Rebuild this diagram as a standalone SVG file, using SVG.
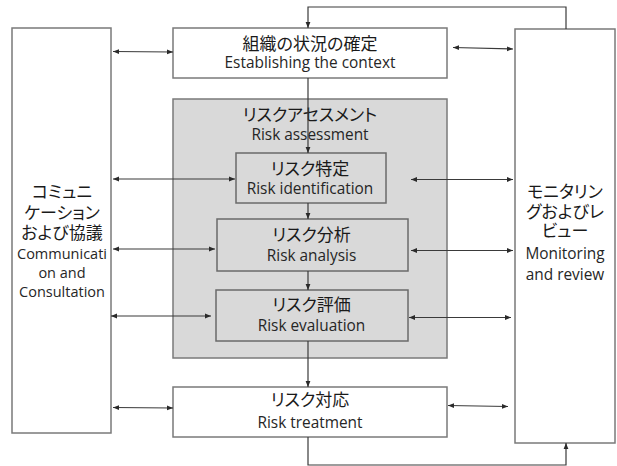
<svg xmlns="http://www.w3.org/2000/svg" width="617" height="466" viewBox="0 0 617 466">
<defs>
<style>
.box{fill:#ffffff;stroke:#7a7a7a;stroke-width:1.5}
.gbox{fill:#d9d9d9;stroke:#7a7a7a;stroke-width:1.5}
.ibox{fill:#d9d9d9;stroke:#6a6a6a;stroke-width:1.5}
.jp{font-family:"Noto Sans CJK JP","Noto Sans",sans-serif;font-size:17px;fill:#1a1a1a;text-anchor:middle;font-feature-settings:"palt"}
.en{font-family:"Open Sans","Liberation Sans",Arial,sans-serif;font-size:15.4px;fill:#262626;text-anchor:middle}
.sm{font-size:14.5px}
.c{fill:none;stroke:#3a3a3a;stroke-width:1.2}
.a2{marker-start:url(#ah);marker-end:url(#ah)}
.a1{marker-end:url(#ah)}
</style>
<marker id="ah" viewBox="0 0 10 10" refX="10" refY="5" markerWidth="6" markerHeight="6" orient="auto-start-reverse" markerUnits="userSpaceOnUse">
<path d="M0,1 L10,5 L0,9 z" fill="#2a2a2a"/>
</marker>
</defs>

<g id="communication">
<rect class="box" x="12" y="28" width="99" height="405"/>
<text class="jp" x="62" y="198">コミュニ</text>
<text class="jp" x="62" y="219">ケーション</text>
<text class="jp" x="62" y="239">および協議</text>
<text class="en sm" x="62" y="259">Communicati</text>
<text class="en sm" x="62" y="278">on and</text>
<text class="en sm" x="62" y="297">Consultation</text>
</g>

<g id="monitoring">
<rect class="box" x="515" y="29" width="100" height="414"/>
<text class="jp" x="565" y="198">モニタリン</text>
<text class="jp" x="565" y="218">グおよびレ</text>
<text class="jp" x="565" y="237">ビュー</text>
<text class="en" x="565" y="259">Monitoring</text>
<text class="en" x="565" y="280">and review</text>
</g>

<g id="context">
<rect class="box" x="173" y="28" width="274" height="50"/>
<text class="jp" x="310" y="50">組織の状況の確定</text>
<text class="en" x="310" y="68">Establishing the context</text>
</g>

<g id="assessment">
<rect class="gbox" x="173" y="99" width="274" height="259"/>
<text class="jp" x="310" y="121">リスクアセスメント</text>
<text class="en" x="310" y="140">Risk assessment</text>
</g>

<g id="identification">
<rect class="ibox" x="236" y="153" width="150" height="50"/>
<text class="jp" x="310" y="175">リスク特定</text>
<text class="en" x="310" y="194">Risk identification</text>
</g>

<g id="analysis">
<rect class="ibox" x="217" y="219" width="191" height="52"/>
<text class="jp" x="311.5" y="241">リスク分析</text>
<text class="en" x="311.5" y="261">Risk analysis</text>
</g>

<g id="evaluation">
<rect class="ibox" x="216" y="290" width="192" height="51"/>
<text class="jp" x="311.5" y="311">リスク評価</text>
<text class="en" x="311.5" y="331">Risk evaluation</text>
</g>

<g id="treatment">
<rect class="box" x="173" y="387" width="274" height="50"/>
<text class="jp" x="310" y="406">リスク対応</text>
<text class="en" x="310" y="428">Risk treatment</text>
</g>

<g id="connectors">
<path class="c a1" d="M566,29 V7 H308 V28"/>
<path class="c a1" d="M308,437 V465 H566 V443"/>
<path class="c a1" d="M308,78 V153"/>
<path class="c a1" d="M308,203 V219"/>
<path class="c a1" d="M308,271 V290"/>
<path class="c a1" d="M308,341 V387"/>
<path class="c a2" d="M113,51.5 L173,52"/>
<path class="c a2" d="M113,179 L235,179"/>
<path class="c a2" d="M113,249 L215,249"/>
<path class="c a2" d="M111,316 L211,316"/>
<path class="c a2" d="M113,407.5 L173,408"/>
<path class="c a2" d="M453,47.5 L513,49"/>
<path class="c a2" d="M411,179.5 L513,179.5"/>
<path class="c a2" d="M411,250.5 L513,250.5"/>
<path class="c a2" d="M409,317.5 L511,317.5"/>
<path class="c a2" d="M448,405.5 L508,406.5"/>
</g>
</svg>
